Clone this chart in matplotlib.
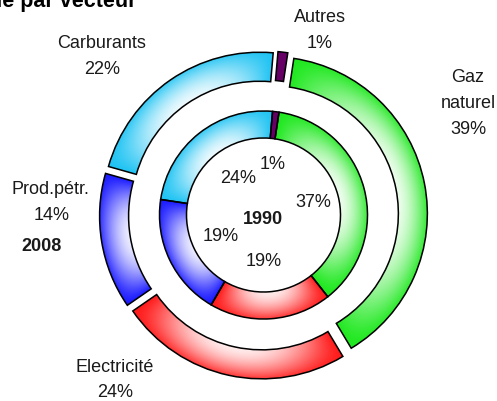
import numpy as np
import matplotlib.pyplot as plt
from matplotlib.patches import Wedge

plt.rcParams['font.family'] = ['Liberation Sans', 'DejaVu Sans']

# data (clockwise from the top)
labels = ['Autres', 'Gaz\nnaturel', 'Electricité', 'Prod.pétr.', 'Carburants']
share_2008 = [1, 39, 24, 14, 22]
share_1990 = [1, 37, 19, 19, 24]
colors = ['#660066', '#1ee81e', '#ff1a1a', '#1a1aff', '#1ec3f3']

W, H = 497, 402
cx, cy = 263.5, H - 216
start = 85

fig = plt.figure(figsize=(W / 100, H / 100), dpi=100)
ax = fig.add_axes([0, 0, 1, 1])
ax.set_xlim(0, W)
ax.set_ylim(0, H)
ax.axis('off')


def ring(values, r, width, explode):
    total = sum(values)
    cum = 0
    for v, col in zip(values, colors):
        t2 = start - cum / total * 360
        t1 = start - (cum + v) / total * 360
        cum += v
        mid = np.radians((t1 + t2) / 2)
        ox, oy = cx + explode * np.cos(mid), cy + explode * np.sin(mid)
        w = Wedge((ox, oy), r, t1, t2, width=width, facecolor='none',
                  edgecolor='black', lw=1.1, zorder=3)
        ax.add_patch(w)
        # gradient fill: white inside, colour towards ends and outer edge
        n = int(2 * r + 6)
        xs = np.linspace(ox - r - 3, ox + r + 3, n)
        ys = np.linspace(oy - r - 3, oy + r + 3, n)
        X, Y = np.meshgrid(xs, ys)
        ang = np.degrees(np.arctan2(Y - oy, X - ox))
        t = np.clip(((ang - t1) % 360) / (t2 - t1), 0, 1)
        rn = np.clip((np.hypot(X - ox, Y - oy) - (r - width)) / width, 0, 1)
        fa = np.abs(2 * t - 1) ** 2.2
        fr = 0.85 * rn ** 1.6
        f = 1 - (1 - fa) * (1 - fr)
        f = 0.08 + 0.92 * f
        if v <= 2:
            f = np.ones_like(f)
        c = np.array(plt.matplotlib.colors.to_rgb(col))
        img = (1 - f[..., None]) * 1.0 + f[..., None] * c
        im = ax.imshow(img, extent=(xs[0], xs[-1], ys[0], ys[-1]), origin='lower',
                       zorder=2, interpolation='bilinear')
        fill = Wedge((ox, oy), r, t1, t2, width=width, transform=ax.transData)
        im.set_clip_path(fill)


ring(share_2008, 157, 29, 7)
ring(share_1990, 104, 27, 0)
ax.set_xlim(0, W)
ax.set_ylim(0, H)
ax.set_aspect('auto')


def txt(x, y, s, **kw):
    ax.text(x, H - y, s, ha='center', va='center', fontsize=13,
            color='#1a1a1a', **kw)


# outer labels (2008)
txt(102, 44, 'Carburants'); txt(102, 70, '22%')
txt(320, 17, 'Autres'); txt(320, 43, '1%')
txt(468, 78, 'Gaz'); txt(468, 103, 'naturel'); txt(468, 129, '39%')
txt(50, 190, 'Prod.pétr.'); txt(52, 216, '14%')
txt(42, 247, '2008', fontweight='bold')
txt(115, 368, 'Electricité'); txt(115, 393, '24%')

# inner labels (1990)
txt(273, 165, '1%'); txt(238, 179, '24%'); txt(313, 203, '37%')
txt(263, 220, '1990', fontweight='bold')
txt(221, 237, '19%'); txt(264, 261, '19%')

# title, cut off at the top-left corner
ax.text(137, H - 7, "Consommation d'énergie finale par vecteur", ha='right',
        va='baseline', fontsize=15.5, fontweight='bold', color='black')

fig.savefig('out.png', dpi=100)
